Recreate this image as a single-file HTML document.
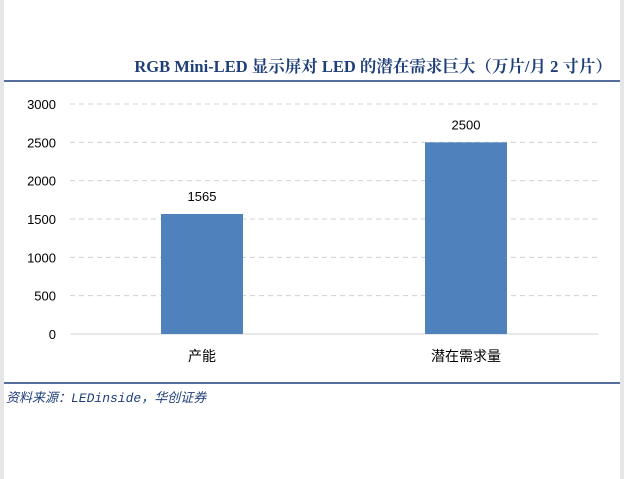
<!DOCTYPE html>
<html><head><meta charset="utf-8"><style>
body{margin:0;background:#fff}
#wrap{position:relative;width:624px;height:479px;box-sizing:border-box;border-left:4px solid #e6e6e6;border-right:4px solid #e6e6e6;background:#fff;overflow:hidden}
svg{position:absolute;left:-4px;top:0}
</style></head><body>
<div id="wrap">
<svg id="c" width="624" height="479">
<text x="612" y="72" text-anchor="end" font-family="'Liberation Serif','Noto Serif CJK SC',serif" font-weight="bold" font-size="16.5" fill="#1f3f7a">RGB Mini-LED 显示屏对 LED 的潜在需求巨大（万片/月 2 寸片）</text>
<line x1="4" y1="81" x2="620" y2="81" stroke="#1f3f7a" stroke-width="1.5"/>
<line x1="4" y1="383" x2="620" y2="383" stroke="#1f3f7a" stroke-width="1.5"/>
<text x="6" y="402" font-family="'Liberation Mono','Noto Sans CJK SC',monospace" font-style="italic" font-size="13" fill="#1f3f7a">资料来源：LEDinside，华创证券</text>
<g id="grid"></g><g id="bars"></g>
</svg></div>
<script>
const categories=["产能","潜在需求量"];
const values=[1565,2500];
const ticks=[0,500,1000,1500,2000,2500,3000];
const svg=document.getElementById('c'),NS="http://www.w3.org/2000/svg";
const x0=70,x1=598,yTop=104,yBot=334,vmax=3000;
const y=v=>yBot-(v/vmax)*(yBot-yTop);
const band=(x1-x0)/categories.length;
const cx=i=>x0+band*(i+0.5);
function mk(t,a,txt){const e=document.createElementNS(NS,t);for(const k in a)e.setAttribute(k,a[k]);if(txt!=null)e.textContent=txt;svg.appendChild(e);return e;}
ticks.forEach(t=>{
 const l=mk('line',{x1:x0,x2:x1,y1:y(t),y2:y(t),stroke:'#d0d0d0','stroke-width':1,'stroke-dasharray':t?'5,4':''});
 
 
 const tx=mk('text',{x:56,y:y(t)+5,'text-anchor':'end','font-family':"'Liberation Sans',sans-serif",'font-size':13,fill:'#000'},t);
 
 
});
values.forEach((v,i)=>{
 const r=mk('rect',{x:cx(i)-41,y:y(v),width:82,height:yBot-y(v),fill:'#4f81bd'});
 
 
 const lb=mk('text',{x:cx(i),y:y(v)-13,'text-anchor':'middle','font-family':"'Liberation Sans',sans-serif",'font-size':13,fill:'#000'},v);
 
 
 const cl=mk('text',{x:cx(i),y:361,'text-anchor':'middle','font-family':"'Liberation Sans','Noto Sans CJK SC',sans-serif",'font-size':14,fill:'#000'},categories[i]);
 
 
});
</script>
</body></html>
